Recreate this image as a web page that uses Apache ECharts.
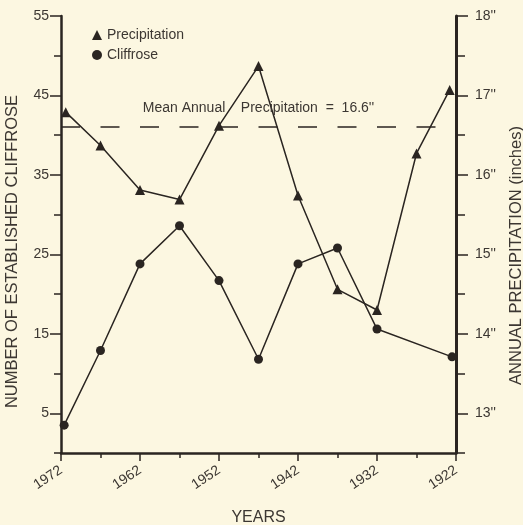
<!DOCTYPE html>
<html>
<head>
<meta charset="utf-8">
<script src="https://cdn.jsdelivr.net/npm/echarts@6/dist/echarts.min.js"></script>
<style>
html,body{margin:0;padding:0;background:#fcf7e1;}
#chart{width:523px;height:525px;}
</style>
</head>
<body>
<div id="chart"></div>
<script>
// ---- data ----
const precipYears = [1971.4, 1967, 1962, 1957, 1952, 1947, 1942, 1937, 1932, 1927, 1922.8];
const precipitation = [16.79, 16.37, 15.81, 15.69, 16.62, 17.37, 15.74, 14.56, 14.30, 16.27, 17.07];
const cliffYears = [1971.6, 1967, 1962, 1957, 1952, 1947, 1942, 1937, 1932, 1922.5];
const cliffrose = [3.5, 12.9, 23.8, 28.6, 21.7, 11.8, 23.8, 25.8, 15.6, 12.1];
const meanPrecip = 16.6;
const yearTicks = [1922, 1927, 1932, 1937, 1942, 1947, 1952, 1957, 1962, 1967, 1972];
const yearLabels = [1922, 1932, 1942, 1952, 1962, 1972];
const leftTicks = [0, 5, 10, 15, 20, 25, 30, 35, 40, 45, 50, 55];
const leftLabels = [5, 15, 25, 35, 45, 55];
const rightTicks = [12.5, 13, 13.5, 14, 14.5, 15, 15.5, 16, 16.5, 17, 17.5, 18];
const rightLabels = [13, 14, 15, 16, 17, 18];

const ink = '#2a2521';
const txt = '#3c3732';
const font = 'Liberation Sans, Arial, Helvetica, sans-serif';

const chart = echarts.init(document.getElementById('chart'));
const axisLine = {show: true, lineStyle: {color: ink, width: 2.5}};

chart.setOption({
  backgroundColor: '#fcf7e1',
  animation: false,
  textStyle: {fontFamily: font, color: txt},
  grid: {left: 61, right: 67, top: 16, bottom: 72, outerBoundsMode: 'none'},
  legend: {
    orient: 'vertical', left: 87, top: 23,
    itemWidth: 10, itemHeight: 10, itemGap: 6,
    textStyle: {fontSize: 14, color: txt, fontFamily: font},
    data: [
      {name: 'Precipitation', icon: 'triangle'},
      {name: 'Cliffrose', icon: 'circle'}
    ]
  },
  xAxis: [
    {
      type: 'value', inverse: true, min: 1922, max: 1972,
      name: 'YEARS', nameLocation: 'middle', nameGap: 57,
      nameTextStyle: {fontSize: 16, color: txt},
      axisLine: axisLine,
      axisTick: {show: true, customValues: yearTicks, length: 5, lineStyle: {color: ink, width: 1.5}},
      axisLabel: {customValues: yearLabels, rotate: 34, margin: 16, fontSize: 14, color: txt,
        formatter: function (v) { return String(v); }},
      splitLine: {show: false}
    },
    {
      type: 'value', inverse: true, min: 1922, max: 1972, position: 'bottom',
      axisLine: {show: false},
      axisTick: {show: true, customValues: yearLabels, length: 8, lineStyle: {color: ink, width: 1.5}},
      axisLabel: {show: false},
      splitLine: {show: false}
    }
  ],
  yAxis: [
    {
      type: 'value', position: 'left', min: 0, max: 55,
      name: 'NUMBER OF ESTABLISHED CLIFFROSE', nameLocation: 'middle', nameRotate: 90, nameGap: 40,
      nameTextStyle: {fontSize: 16.5, color: txt, padding: [0, 34, 0, 0]},
      axisLine: axisLine,
      axisTick: {show: true, customValues: leftTicks, length: 7, lineStyle: {color: ink, width: 1.5}},
      axisLabel: {customValues: leftLabels, margin: 12, fontSize: 14, color: txt},
      splitLine: {show: false}
    },
    {
      type: 'value', position: 'right', min: 12.5, max: 18,
      name: 'ANNUAL PRECIPITATION (inches)', nameLocation: 'middle', nameRotate: 90, nameGap: 52,
      nameTextStyle: {fontSize: 16.5, color: txt, padding: [0, 42, 0, 0]},
      axisLine: {show: true, lineStyle: {color: ink, width: 3}},
      axisTick: {show: true, customValues: rightTicks, length: 9, lineStyle: {color: ink, width: 1.5}},
      axisLabel: {customValues: rightLabels, margin: 19, fontSize: 14, color: txt,
        formatter: function (v) { return v + "''"; }},
      splitLine: {show: false}
    },
    {
      type: 'value', position: 'left', min: 0, max: 55,
      axisLine: {show: false},
      axisTick: {show: true, customValues: leftLabels, length: 11, lineStyle: {color: ink, width: 1.5}},
      axisLabel: {show: false}, splitLine: {show: false}
    },
    {
      type: 'value', position: 'right', min: 12.5, max: 18,
      axisLine: {show: false},
      axisTick: {show: true, customValues: rightLabels, length: 12, lineStyle: {color: ink, width: 1.5}},
      axisLabel: {show: false}, splitLine: {show: false}
    }
  ],
  series: [
    {
      name: 'Precipitation', type: 'line', xAxisIndex: 0, yAxisIndex: 1,
      data: precipYears.map((y, i) => [y, precipitation[i]]),
      symbol: 'triangle', symbolSize: 10,
      lineStyle: {color: ink, width: 1.5}, itemStyle: {color: ink},
      markLine: {
        silent: true, symbol: 'none',
        lineStyle: {color: ink, width: 1.5, type: [19, 20.5], dashOffset: 19},
        label: {show: true, position: 'insideMiddleTop', distance: 12, fontSize: 14, color: txt,
          formatter: "Mean Annual    Precipitation  =  16.6''"},
        data: [{yAxis: meanPrecip}]
      }
    },
    {
      name: 'Cliffrose', type: 'line', xAxisIndex: 0, yAxisIndex: 0,
      data: cliffYears.map((y, i) => [y, cliffrose[i]]),
      symbol: 'circle', symbolSize: 9,
      lineStyle: {color: ink, width: 1.5}, itemStyle: {color: ink}
    }
  ]
});
</script>
</body>
</html>
